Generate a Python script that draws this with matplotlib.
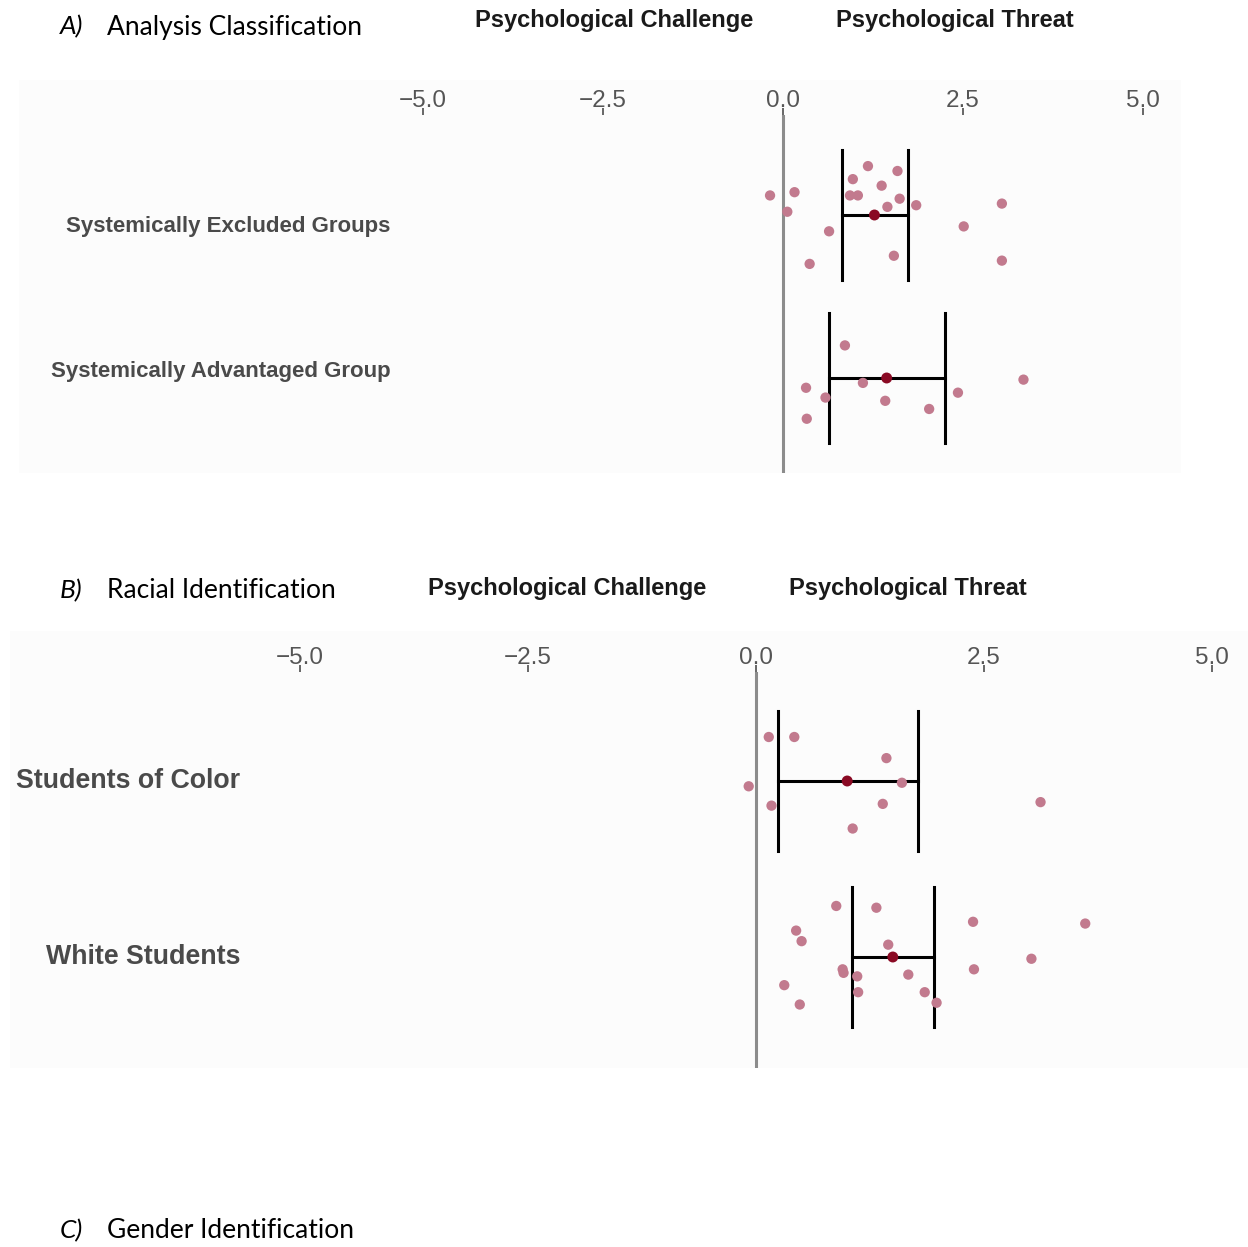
import numpy as np
import matplotlib.pyplot as plt
from matplotlib.patches import Rectangle

# panel A: analysis classification
a_groups = ["Systemically Excluded Groups", "Systemically Advantaged Group"]
a_mean = [1.27, 1.44]
a_lo = [0.82, 0.64]
a_hi = [1.74, 2.25]
a_excl_x = [-0.18, 0.16, 0.06, 0.64, 0.37, 0.97, 1.18, 1.59, 1.37, 0.93, 1.04,
            1.45, 1.62, 1.85, 1.54, 2.51, 3.04, 3.04]
a_excl_j = [0.12, 0.14, 0.02, -0.10, -0.30, 0.22, 0.30, 0.27, 0.18, 0.12, 0.12,
            0.05, 0.10, 0.06, -0.25, -0.07, 0.07, -0.28]
a_adv_x = [0.86, 0.32, 0.59, 0.33, 1.11, 1.42, 2.03, 2.43, 3.34]
a_adv_j = [0.20, -0.06, -0.12, -0.25, -0.03, -0.14, -0.19, -0.09, -0.01]

# panel B: racial identification
b_groups = ["Students of Color", "White Students"]
b_mean = [1.00, 1.50]
b_lo = [0.24, 1.05]
b_hi = [1.78, 1.95]
b_color_x = [0.14, 0.42, -0.08, 0.17, 1.43, 1.60, 1.39, 1.06, 3.12]
b_color_j = [0.25, 0.25, -0.03, -0.14, 0.13, -0.01, -0.13, -0.27, -0.12]
b_white_x = [0.88, 1.32, 0.44, 0.50, 1.45, 2.38, 3.61, 3.02, 2.39, 0.95, 0.96,
             1.11, 1.67, 0.31, 1.12, 1.85, 1.98, 0.48]
b_white_j = [0.29, 0.28, 0.15, 0.09, 0.07, 0.20, 0.19, -0.01, -0.07, -0.07, -0.09,
             -0.11, -0.10, -0.16, -0.20, -0.20, -0.26, -0.27]

ticks = [-5.0, -2.5, 0.0, 2.5, 5.0]

W, H = 1248, 1247
fig = plt.figure(figsize=(W / 100, H / 100), dpi=100)

def rect(l, t, r, b):
    return [l / W, 1 - b / H, (r - l) / W, (b - t) / H]

narrow = ["Liberation Sans Narrow", "Liberation Sans", "DejaVu Sans"]
sans = ["Liberation Sans", "DejaVu Sans"]
body = ["Lato", "DejaVu Sans"]
pt_col = "#c27a8e"
mean_col = "#8a0a24"

def panel(box, bg, xlim, ylim, groups, lab_dy, lab_size, pts, mean, lo, hi):
    fig.patches.append(Rectangle((bg[0] / W, 1 - bg[3] / H), (bg[2] - bg[0]) / W,
                                 (bg[3] - bg[1]) / H, transform=fig.transFigure,
                                 facecolor="#fcfcfc", edgecolor="none", zorder=-1))
    ax = fig.add_axes(rect(*box))
    ax.patch.set_alpha(0)
    ax.set_xlim(xlim)
    ax.set_ylim(ylim)
    for s in ax.spines.values():
        s.set_visible(False)
    ax.xaxis.tick_top()
    ax.set_xticks(ticks)
    ax.set_xticklabels([f"{t:.1f}".replace("-", "\u2212") for t in ticks])
    ax.tick_params(axis="x", direction="out", length=5, width=1.4, color="#666666",
                   labelcolor="#555555", labelsize=17.5, pad=-2.5)
    for lab in ax.get_xticklabels():
        lab.set_family(sans)
    ax.set_yticks([])
    ax.axvline(0, color="#8c8c8c", lw=2.2, zorder=1)
    n = len(groups)
    for i, g in enumerate(groups):
        yc = n - i
        ax.text(-0.012, yc + lab_dy[i], g, transform=ax.get_yaxis_transform(),
                ha="right", va="center", fontsize=lab_size, fontweight="bold",
                color="#4a4a4a", family=sans)
        xs, js = pts[i]
        ax.scatter(xs, yc + np.array(js), s=55, color=pt_col, edgecolors="none",
                   zorder=3)
        ax.plot([lo[i], hi[i]], [yc, yc], color="black", lw=2.2, zorder=2)
        ax.plot([lo[i], lo[i]], [yc - 0.4, yc + 0.4], color="black", lw=2.2, zorder=2)
        ax.plot([hi[i], hi[i]], [yc - 0.4, yc + 0.4], color="black", lw=2.2, zorder=2)
        ax.scatter([mean[i]], [yc], s=62, color=mean_col, edgecolors="none", zorder=4)
    return ax

# panel A: x px = 783 + 72*x ; rows at y px 215 / 378
panel((400, 115, 1181, 473), (19, 80, 1181, 473),
      ((400 - 783) / 72, (1181 - 783) / 72), (2 - (473 - 215) / 163, 2 + (215 - 115) / 163),
      a_groups, [-0.07, 0.04], 16,
      [(a_excl_x, a_excl_j), (a_adv_x, a_adv_j)], a_mean, a_lo, a_hi)

# panel B: x px = 756 + 91.2*x ; rows at y px 781 / 957
panel((252, 672, 1248, 1068), (10, 631, 1248, 1068),
      ((252 - 756) / 91.2, (1248 - 756) / 91.2), (2 - (1068 - 781) / 176, 2 + (781 - 672) / 176),
      b_groups, [0.0, 0.0], 19.3,
      [(b_color_x, b_color_j), (b_white_x, b_white_j)], b_mean, b_lo, b_hi)

# column headers
for x0, x1, y in [(475, 836, 20), (428, 789, 588)]:
    fig.text(x0 / W, 1 - y / H, "Psychological Challenge", ha="left", va="center",
             fontsize=17, fontweight="bold", color="#1a1a1a", family=narrow)
    fig.text(x1 / W, 1 - y / H, "Psychological Threat", ha="left", va="center",
             fontsize=17, fontweight="bold", color="#1a1a1a", family=narrow)

# section labels
for letter, name, y in [("A)", "Analysis Classification", 27),
                        ("B)", "Racial Identification", 591),
                        ("C)", "Gender Identification", 1231)]:
    fig.text(60 / W, 1 - y / H, letter, ha="left", va="center", fontsize=19,
             style="italic", color="black", family=body)
    fig.text(107 / W, 1 - y / H, name, ha="left", va="center", fontsize=19,
             color="black", family=body)

fig.savefig("out.png", dpi=100, facecolor="white")
